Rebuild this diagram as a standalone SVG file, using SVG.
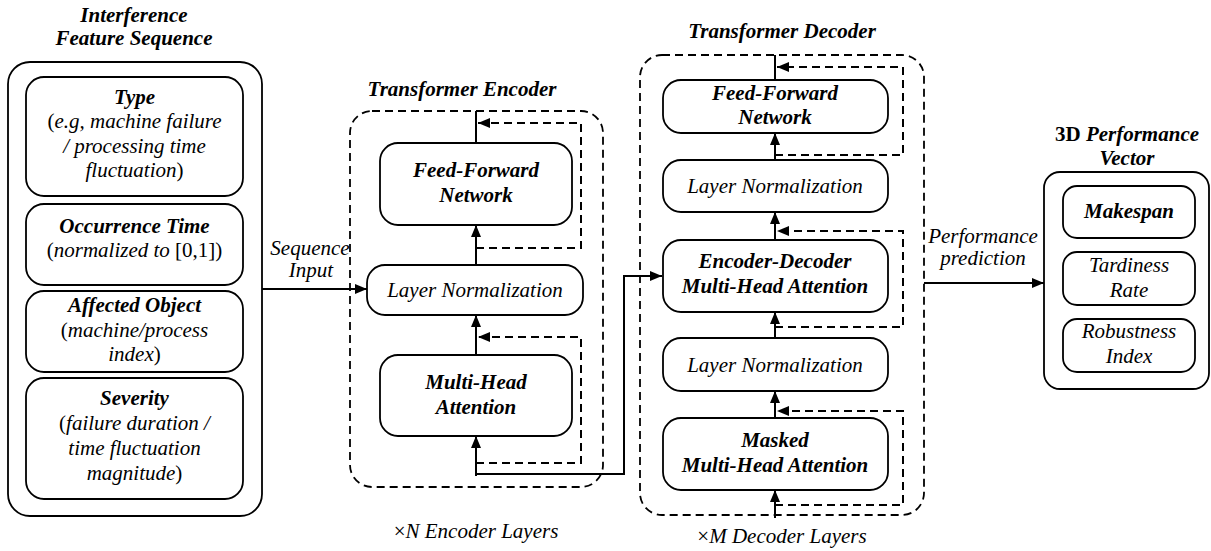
<svg xmlns="http://www.w3.org/2000/svg" width="1211" height="551" viewBox="0 0 1211 551">
<defs>
<style>
.box{fill:#fff;stroke:#000;stroke-width:1.8}
.dbox{fill:none;stroke:#000;stroke-width:1.8;stroke-dasharray:8 5}
.ln{fill:none;stroke:#000;stroke-width:2}
.dl{fill:none;stroke:#000;stroke-width:2;stroke-dasharray:8 5}
.t{font-size:21px;text-anchor:middle;fill:#000}
.bi{font-weight:bold;font-style:italic}
.i{font-style:italic}
.r{font-style:normal;font-weight:normal}
.b{font-weight:bold;font-style:normal}
</style>
<marker id="ah" viewBox="0 0 12 10" refX="12" refY="5" markerWidth="12" markerHeight="10" markerUnits="userSpaceOnUse" orient="auto"><path d="M0,0 L12,5 L0,10 z" fill="#000"/></marker>
</defs>
<rect width="1211" height="551" fill="#fff"/>
<g font-family="Liberation Serif, Times New Roman, Times, serif" class="t">

<g id="input-panel">
<text class="bi" x="134" y="22">Interference</text>
<text class="bi" x="134" y="45">Feature Sequence</text>
<rect class="box" x="8" y="62" width="254" height="454" rx="22"/>
</g>
<g id="type">
<rect class="box" x="26" y="77" width="217" height="119" rx="18"/>
<text class="bi" x="134.5" y="104">Type</text>
<text x="134.5" y="128"><tspan class="r">(</tspan><tspan class="i">e.g, machine failure</tspan></text>
<text class="i" x="134.5" y="153">/ processing time</text>
<text x="134.5" y="177"><tspan class="i">fluctuation</tspan><tspan class="r">)</tspan></text>
</g>
<g id="occurrence">
<rect class="box" x="26" y="204" width="217" height="81" rx="18"/>
<text class="bi" x="134.5" y="233">Occurrence Time</text>
<text x="134.5" y="257"><tspan class="r">(</tspan><tspan class="i">normalized to </tspan><tspan class="r">[0,1])</tspan></text>
</g>
<g id="affected">
<rect class="box" x="26" y="291" width="217" height="81" rx="18"/>
<text class="bi" x="134.5" y="312">Affected Object</text>
<text x="134.5" y="337"><tspan class="r">(</tspan><tspan class="i">machine/process</tspan></text>
<text x="134.5" y="361"><tspan class="i">index</tspan><tspan class="r">)</tspan></text>
</g>
<g id="severity">
<rect class="box" x="26" y="378" width="217" height="121" rx="18"/>
<text class="bi" x="134.5" y="405">Severity</text>
<text x="134.5" y="430"><tspan class="r">(</tspan><tspan class="i">failure duration /</tspan></text>
<text class="i" x="134.5" y="455">time fluctuation</text>
<text x="134.5" y="480"><tspan class="i">magnitude</tspan><tspan class="r">)</tspan></text>
</g>

<g id="encoder">
<text class="bi" x="462" y="96">Transformer Encoder</text>
<rect class="dbox" x="350" y="111" width="253" height="376" rx="22"/>
<text class="i" x="476" y="538"><tspan class="r">×</tspan>N Encoder Layers</text>
</g>
<g id="enc-ffn">
<rect class="box" x="380" y="143" width="192" height="82" rx="18"/>
<text class="bi" x="476" y="177">Feed-Forward</text>
<text class="bi" x="476" y="202">Network</text>
</g>
<g id="enc-ln">
<rect class="box" x="367" y="265" width="216" height="50" rx="18"/>
<text class="i" x="475" y="297">Layer Normalization</text>
</g>
<g id="enc-mha">
<rect class="box" x="380" y="355" width="192" height="81" rx="18"/>
<text class="bi" x="476" y="389">Multi-Head</text>
<text class="bi" x="476" y="414">Attention</text>
</g>

<g id="decoder">
<text class="bi" x="782" y="38">Transformer Decoder</text>
<rect class="dbox" x="640" y="55" width="284" height="460" rx="22"/>
<text class="i" x="782" y="543"><tspan class="r">×</tspan>M Decoder Layers</text>
</g>
<g id="dec-ffn">
<rect class="box" x="663" y="80" width="225" height="53" rx="18"/>
<text class="bi" x="775" y="100">Feed-Forward</text>
<text class="bi" x="775" y="124">Network</text>
</g>
<g id="dec-ln1">
<rect class="box" x="663" y="160" width="225" height="52" rx="18"/>
<text class="i" x="775" y="193">Layer Normalization</text>
</g>
<g id="dec-encdec">
<rect class="box" x="663" y="240" width="225" height="72" rx="18"/>
<text class="bi" x="775" y="268">Encoder-Decoder</text>
<text class="bi" x="775" y="293">Multi-Head Attention</text>
</g>
<g id="dec-ln2">
<rect class="box" x="663" y="338" width="225" height="53" rx="18"/>
<text class="i" x="775" y="372">Layer Normalization</text>
</g>
<g id="dec-masked">
<rect class="box" x="663" y="418" width="225" height="72" rx="18"/>
<text class="bi" x="775" y="447">Masked</text>
<text class="bi" x="775" y="472">Multi-Head Attention</text>
</g>

<g id="output-panel">
<text x="1127" y="141"><tspan class="b">3D </tspan><tspan class="bi">Performance</tspan></text>
<text class="bi" x="1127" y="165">Vector</text>
<rect class="box" x="1044" y="172" width="165" height="217" rx="16"/>
</g>
<g id="makespan">
<rect class="box" x="1063" y="186" width="132" height="52" rx="14"/>
<text class="bi" x="1129" y="218">Makespan</text>
</g>
<g id="tardiness">
<rect class="box" x="1063" y="252" width="132" height="53" rx="14"/>
<text class="i" x="1129" y="272">Tardiness</text>
<text class="i" x="1129" y="297">Rate</text>
</g>
<g id="robustness">
<rect class="box" x="1063" y="319" width="132" height="53" rx="14"/>
<text class="i" x="1129" y="338">Robustness</text>
<text class="i" x="1129" y="363">Index</text>
</g>

<g id="connectors">
<path class="ln" d="M262,289 H367" marker-end="url(#ah)"/>
<text class="i" x="310" y="255">Sequence</text>
<text class="i" x="311" y="277">Input</text>
<path class="ln" d="M476,111 V143"/>
<path class="ln" d="M476,265 V225" marker-end="url(#ah)"/>
<path class="ln" d="M476,355 V315" marker-end="url(#ah)"/>
<path class="ln" d="M476,476 V436" marker-end="url(#ah)"/>
<path class="dl" d="M476,248 H581 V123 H478" marker-end="url(#ah)"/>
<path class="dl" d="M476,463 H581 V337 H478" marker-end="url(#ah)"/>
<path class="ln" d="M476,474 H624 V276 H662" marker-end="url(#ah)"/>
<path class="ln" d="M775,55 V80"/>
<path class="ln" d="M775,160 V133" marker-end="url(#ah)"/>
<path class="ln" d="M775,240 V212" marker-end="url(#ah)"/>
<path class="ln" d="M775,338 V312" marker-end="url(#ah)"/>
<path class="ln" d="M775,418 V391" marker-end="url(#ah)"/>
<path class="ln" d="M775,518 V490" marker-end="url(#ah)"/>
<path class="dl" d="M775,155 H903 V67 H777" marker-end="url(#ah)"/>
<path class="dl" d="M775,327 H903 V231 H777" marker-end="url(#ah)"/>
<path class="dl" d="M775,505 H903 V411 H777" marker-end="url(#ah)"/>
<path class="ln" d="M924,283 H1044" marker-end="url(#ah)"/>
<text class="i" x="983" y="243">Performance</text>
<text class="i" x="983" y="265">prediction</text>
</g>
</g>
</svg>
